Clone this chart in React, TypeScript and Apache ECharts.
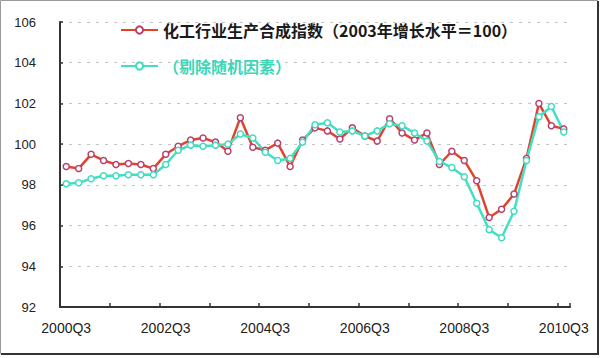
import React, { useEffect, useRef } from "react";
import * as echarts from "echarts";

const categories = [
  "2000Q3", "2000Q4", "2001Q1", "2001Q2", "2001Q3", "2001Q4", "2002Q1", "2002Q2",
  "2002Q3", "2002Q4", "2003Q1", "2003Q2", "2003Q3", "2003Q4", "2004Q1", "2004Q2",
  "2004Q3", "2004Q4", "2005Q1", "2005Q2", "2005Q3", "2005Q4", "2006Q1", "2006Q2",
  "2006Q3", "2006Q4", "2007Q1", "2007Q2", "2007Q3", "2007Q4", "2008Q1", "2008Q2",
  "2008Q3", "2008Q4", "2009Q1", "2009Q2", "2009Q3", "2009Q4", "2010Q1", "2010Q2",
  "2010Q3",
];

const compositeIndex = [
  98.9, 98.8, 99.5, 99.2, 99.0, 99.05, 99.0, 98.8,
  99.5, 99.9, 100.2, 100.3, 100.1, 99.65, 101.3, 99.85,
  99.7, 100.05, 98.9, 100.2, 100.8, 100.65, 100.25, 100.8,
  100.4, 100.15, 101.25, 100.55, 100.2, 100.55, 99.0, 99.65,
  99.2, 98.2, 96.4, 96.8, 97.55, 99.3, 102.0, 100.9,
  100.75,
];

const seasonalAdjusted = [
  98.05, 98.1, 98.3, 98.45, 98.45, 98.5, 98.5, 98.5,
  99.0, 99.7, 99.95, 99.9, 99.95, 100.0, 100.5, 100.3,
  99.6, 99.2, 99.3, 100.1, 100.95, 101.05, 100.6, 100.65,
  100.4, 100.65, 101.0, 100.9, 100.55, 100.15, 99.15, 98.85,
  98.4, 97.1, 95.8, 95.4, 96.7, 99.2, 101.35, 101.85,
  100.6,
];

const seriesNames = ["化工行业生产合成指数（2003年增长水平＝100）", "（剔除随机因素）"];

export default function App() {
  const ref = useRef<HTMLDivElement>(null);
  useEffect(() => {
    if (!ref.current) return;
    const chart = echarts.init(ref.current, undefined, { renderer: "svg" });
    const font = "'Liberation Sans', Arial, sans-serif";
    const cjk = "'Noto Sans CJK SC', 'Liberation Sans', sans-serif";
    chart.setOption({
      animation: false,
      backgroundColor: "#ffffff",
      grid: { left: 60, right: 30, top: 22, bottom: 51, containLabel: false },
      legend: {
        orient: "vertical",
        left: 115,
        top: 17,
        itemWidth: 37,
        itemHeight: 9,
        itemGap: 20,
        data: [
          { name: seriesNames[0], textStyle: { color: "#1a1a1a" } },
          { name: seriesNames[1], textStyle: { color: "#3cd6b8" } },
        ],
        textStyle: { fontSize: 16, fontFamily: cjk, fontWeight: "bold" },
      },
      xAxis: {
        type: "category",
        data: categories,
        boundaryGap: true,
        axisLine: { show: true, lineStyle: { color: "#333", width: 2 } },
        axisTick: { show: true, inside: true, interval: 3, length: 4, lineStyle: { color: "#333", width: 1.5 } },
        axisLabel: { interval: 7, fontSize: 14, color: "#222", margin: 14, fontFamily: font },
        splitLine: { show: false },
      },
      yAxis: {
        type: "value",
        min: 92,
        max: 106,
        interval: 2,
        axisLine: { show: true, lineStyle: { color: "#333", width: 2 } },
        axisTick: { show: true, inside: true, length: 3, lineStyle: { color: "#333", width: 1.5 } },
        axisLabel: { fontSize: 13, color: "#222", margin: 24, fontFamily: font },
        splitLine: { show: true, lineStyle: { color: "#c4c4c4", type: [3, 6], width: 1 } },
      },
      series: [
        {
          name: seriesNames[0],
          type: "line",
          data: compositeIndex,
          symbol: "circle",
          symbolSize: 6,
          lineStyle: { color: "#e0442c", width: 2.5 },
          itemStyle: { color: "#ffffff", borderColor: "#b8406e", borderWidth: 1.5 },
        },
        {
          name: seriesNames[1],
          type: "line",
          data: seasonalAdjusted,
          symbol: "circle",
          symbolSize: 6,
          lineStyle: { color: "#40e0c4", width: 2.5 },
          itemStyle: { color: "#ffffff", borderColor: "#40dcc0", borderWidth: 1.5 },
        },
      ],
      graphic: [
        { type: "rect", shape: { x: 0.5, y: 0.5, width: 597, height: 353 }, style: { fill: "none", stroke: "#9a9a9a", lineWidth: 1 }, silent: true },
        { type: "line", shape: { x1: 598, y1: 1, x2: 598, y2: 354 }, style: { stroke: "#333", lineWidth: 2 }, silent: true },
        { type: "line", shape: { x1: 1, y1: 354, x2: 599, y2: 354 }, style: { stroke: "#333", lineWidth: 2 }, silent: true },
      ],
    });
    return () => chart.dispose();
  }, []);
  return <div ref={ref} style={{ position: "fixed", left: 0, top: 0, width: 600, height: 358 }} />;
}
